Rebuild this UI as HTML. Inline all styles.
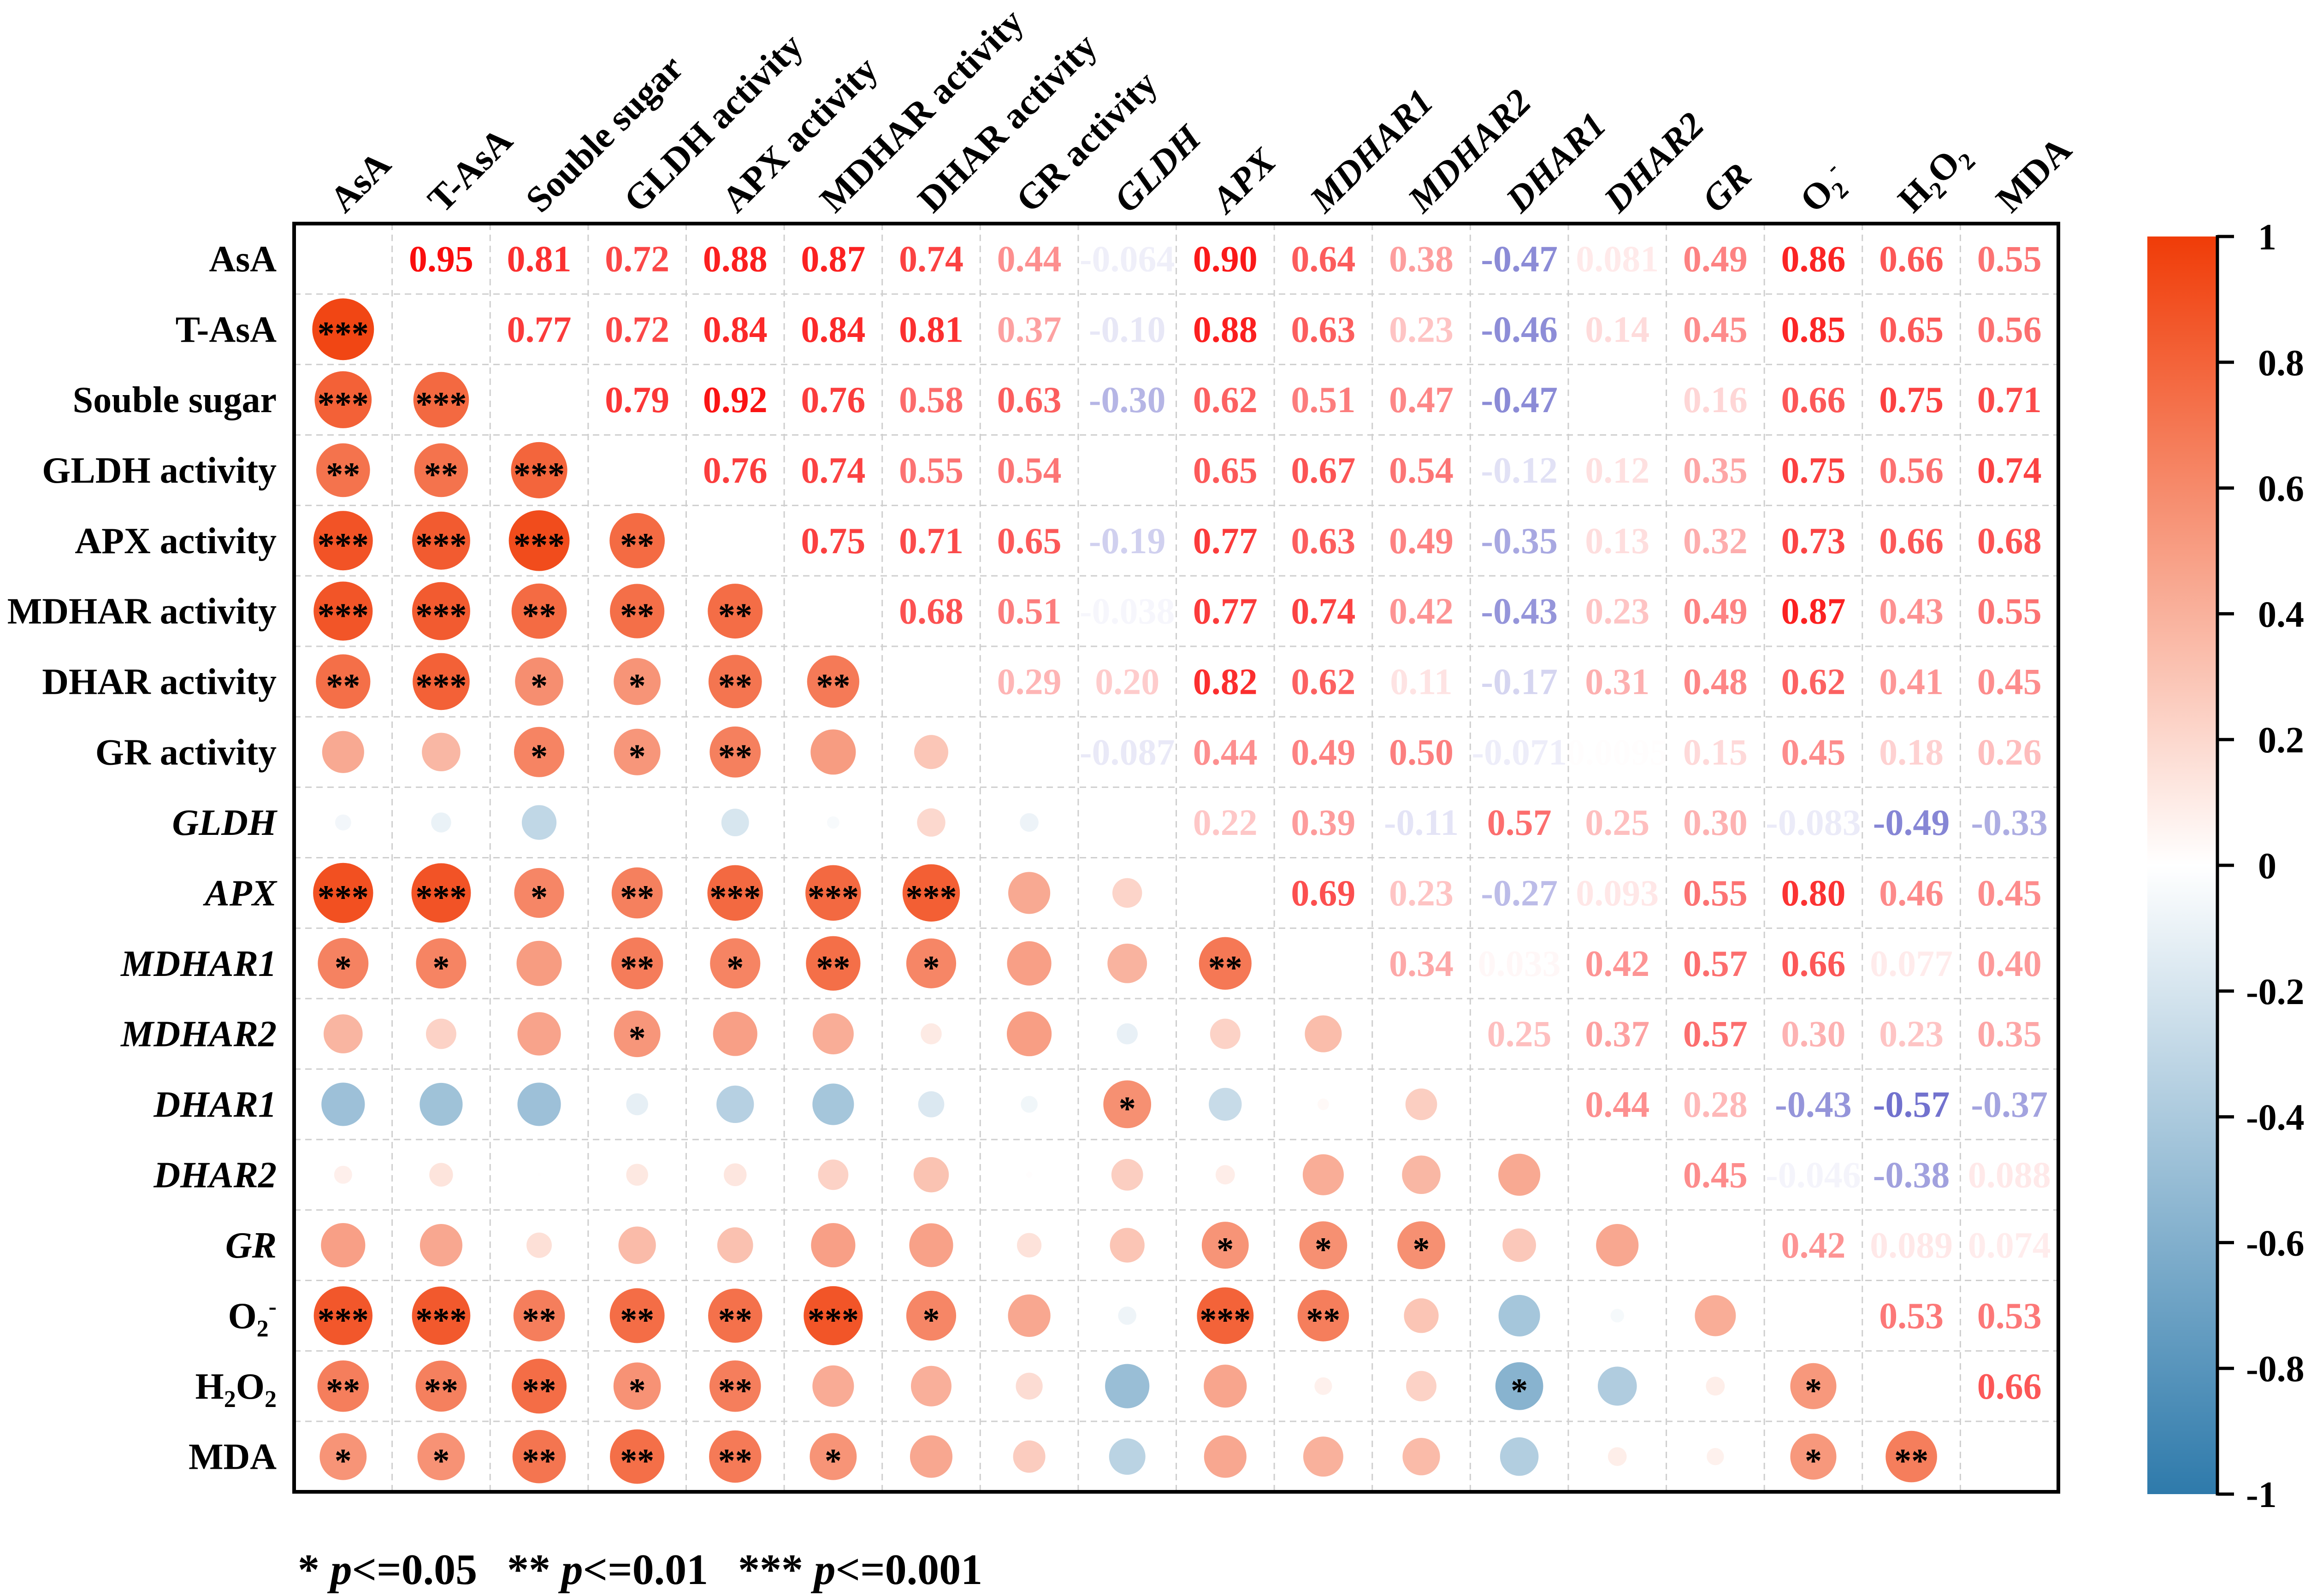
<!DOCTYPE html>
<html><head><meta charset="utf-8"><style>
html,body{margin:0;padding:0;background:#fff}
svg{display:block}
text{font-family:"Liberation Serif",serif;font-weight:bold}
</style></head><body>
<svg id="chart" width="5051" height="3462" viewBox="0 0 5051 3462" xmlns="http://www.w3.org/2000/svg">
<defs>
<linearGradient id="cbar" x1="0" y1="0" x2="0" y2="1">
<stop offset="0" stop-color="rgb(240,60,8)"/>
<stop offset="0.5" stop-color="rgb(255,255,255)"/>
<stop offset="1" stop-color="rgb(46,122,171)"/>
</linearGradient>
</defs>
<g id="grid"></g>
<g id="marks"></g>
<g id="labels"></g>
<rect x="638" y="485" width="3827" height="2751" fill="none" stroke="#000" stroke-width="8"/>
<g id="colorbar"></g>
<text y="3436" font-size="94"><tspan x="646">* <tspan font-style="italic">p</tspan>&lt;=0.05</tspan><tspan x="1100">** <tspan font-style="italic">p</tspan>&lt;=0.01</tspan><tspan x="1601">*** <tspan font-style="italic">p</tspan>&lt;=0.001</tspan></text>
</svg>
<script>
const variables = ["AsA","T-AsA","Souble sugar","GLDH activity","APX activity","MDHAR activity","DHAR activity","GR activity","GLDH","APX","MDHAR1","MDHAR2","DHAR1","DHAR2","GR","O2-","H2O2","MDA"];
const italicVars = ["GLDH","APX","MDHAR1","MDHAR2","DHAR1","DHAR2","GR"];
const upper0 = [0.95,0.81,0.72,0.88,0.87,0.74,0.44,-0.064,0.90,0.64,0.38,-0.47,0.081,0.49,0.86,0.66,0.55];
const upper1 = [0.77,0.72,0.84,0.84,0.81,0.37,-0.10,0.88,0.63,0.23,-0.46,0.14,0.45,0.85,0.65,0.56];
const upper2 = [0.79,0.92,0.76,0.58,0.63,-0.30,0.62,0.51,0.47,-0.47,0.003,0.16,0.66,0.75,0.71];
const upper3 = [0.76,0.74,0.55,0.54,0.00014,0.65,0.67,0.54,-0.12,0.12,0.35,0.75,0.56,0.74];
const upper4 = [0.75,0.71,0.65,-0.19,0.77,0.63,0.49,-0.35,0.13,0.32,0.73,0.66,0.68];
const upper5 = [0.68,0.51,-0.038,0.77,0.74,0.42,-0.43,0.23,0.49,0.87,0.43,0.55];
const upper6 = [0.29,0.20,0.82,0.62,0.11,-0.17,0.31,0.48,0.62,0.41,0.45];
const upper7 = [-0.087,0.44,0.49,0.50,-0.071,0.0095,0.15,0.45,0.18,0.26];
const upper8 = [0.22,0.39,-0.11,0.57,0.25,0.30,-0.083,-0.49,-0.33];
const upper9 = [0.69,0.23,-0.27,0.093,0.55,0.80,0.46,0.45];
const upper10 = [0.34,0.033,0.42,0.57,0.66,0.077,0.40];
const upper11 = [0.25,0.37,0.57,0.30,0.23,0.35];
const upper12 = [0.44,0.28,-0.43,-0.57,-0.37];
const upper13 = [0.45,-0.046,-0.38,0.088];
const upper14 = [0.42,0.089,0.074];
const upper15 = [0.53,0.53];
const upper16 = [0.66];
const upperRows = [upper0,upper1,upper2,upper3,upper4,upper5,upper6,upper7,upper8,upper9,upper10,upper11,upper12,upper13,upper14,upper15,upper16];
const valueLabels = {"0.00014":"1.4E-4","0.003":"","0.0095":"0.0095"};
const stars1 = ["***"];
const stars2 = ["***","***"];
const stars3 = ["**","**","***"];
const stars4 = ["***","***","***","**"];
const stars5 = ["***","***","**","**","**"];
const stars6 = ["**","***","*","*","**","**"];
const stars7 = ["","","*","*","**","",""];
const stars8 = ["","","","","","","",""];
const stars9 = ["***","***","*","**","***","***","***","",""];
const stars10 = ["*","*","","**","*","**","*","","","**"];
const stars11 = ["","","","*","","","","","","",""];
const stars12 = ["","","","","","","","","*","","",""];
const stars13 = ["","","","","","","","","","","","",""];
const stars14 = ["","","","","","","","","","*","*","*","",""];
const stars15 = ["***","***","**","**","**","***","*","","","***","**","","","",""];
const stars16 = ["**","**","**","*","**","","","","","","","","*","","","*"];
const stars17 = ["*","*","**","**","**","*","","","","","","","","","","*","**"];
const starRows = [[],stars1,stars2,stars3,stars4,stars5,stars6,stars7,stars8,stars9,stars10,stars11,stars12,stars13,stars14,stars15,stars16,stars17];
const cbarTicks = [1,0.8,0.6,0.4,0.2,0,-0.2,-0.4,-0.6,-0.8,-1];
const cbarTickLabels = ["1","0.8","0.6","0.4","0.2","0","-0.2","-0.4","-0.6","-0.8","-1"];

const NS="http://www.w3.org/2000/svg";
const N=variables.length, X0=638, Y0=485, W=3827, H=2751;
const cw=W/N, ch=H/N;
const cx=j=>X0+cw*(j+0.5), cy=i=>Y0+ch*(i+0.5);
const rScale=v=>Math.sqrt(Math.abs(v))*68.7;
const cbY=v=>513+(1-v)/2*2728;
function cmap(v){
  if(v>=0) return `rgb(${Math.round(255-v*15)},${Math.round(255-v*195)},${Math.round(255-v*247)})`;
  const a=-v; return `rgb(${Math.round(255-a*209)},${Math.round(255-a*133)},${Math.round(255-a*84)})`;
}
function mk(tag,attrs,parent){const e=document.createElementNS(NS,tag);for(const k in attrs)e.setAttribute(k,attrs[k]);parent.appendChild(e);return e;}
const M=[];for(let i=0;i<N;i++){M.push(new Array(N).fill(1));}
upperRows.forEach((row,i)=>row.forEach((v,k)=>{const j=i+1+k;M[i][j]=v;M[j][i]=v;}));

const grid=document.getElementById('grid');
for(let k=1;k<N;k++){
  const l1=mk('line',{x1:X0+cw*k,y1:Y0,x2:X0+cw*k,y2:Y0+H,stroke:'#cfcfcf','stroke-width':3,'stroke-dasharray':'14 10'},grid);
  
  
  const l2=mk('line',{x1:X0,y1:Y0+ch*k,x2:X0+W,y2:Y0+ch*k,stroke:'#cfcfcf','stroke-width':3,'stroke-dasharray':'14 10'},grid);
  
  
}
const marks=document.getElementById('marks');
for(let i=0;i<N;i++){for(let j=0;j<N;j++){
  const v=M[i][j];
  if(j<i){
    const c=mk('circle',{cx:cx(j),cy:cy(i),r:rScale(v),fill:cmap(v)},marks);
    
    
    const s=starRows[i][j]||'';
    if(s){const t=mk('text',{x:cx(j),y:cy(i)+34,'text-anchor':'middle','font-size':74,fill:'#000','font-weight':'normal'},marks);t.textContent=s;
      
      }
  } else if(j>i){
    const key=String(v);
    let txt;
    if(key in valueLabels) txt=valueLabels[key];
    else txt=(Math.abs(v)<0.1)? String(v) : v.toFixed(2);
    const pos=v>=0, a=Math.min(1,Math.abs(v)*(pos?1:1.15));
    const t=mk('text',{x:cx(j),y:cy(i)+27,'text-anchor':'middle','font-size':80,fill:pos?'rgb(250,0,0)':'rgb(40,40,180)','fill-opacity':a},marks);
    t.textContent=txt;
    
    
  }
}}
const labels=document.getElementById('labels');
function addName(el,name){
  if(name==='O2-'){el.innerHTML='O<tspan font-size="0.65em" dy="18">2</tspan><tspan font-size="0.65em" dy="-48">-</tspan>';}
  else if(name==='H2O2'){el.innerHTML='H<tspan font-size="0.65em" dy="18">2</tspan><tspan dy="-18">O</tspan><tspan font-size="0.65em" dy="18">2</tspan>';}
  else el.textContent=name;
  if(italicVars.includes(name)) el.setAttribute('font-style','italic');
}
variables.forEach((name,i)=>{
  const t=mk('text',{x:600,y:cy(i)+27,'text-anchor':'end','font-size':80,fill:'#000'},labels);
  addName(t,name);
  
  
  const x=cx(i)+4, y=465;
  const c=mk('text',{x:x,y:y,'text-anchor':'start','font-size':80,fill:'#000',transform:`rotate(-45 ${x} ${y})`},labels);
  addName(c,name);
  
  
});
const cb=document.getElementById('colorbar');
const bar=mk('rect',{x:4658,y:cbY(1),width:150,height:cbY(-1)-cbY(1),fill:'url(#cbar)'},cb);


const ax=mk('line',{x1:4810,y1:cbY(1)-3,x2:4810,y2:cbY(-1)+3,stroke:'#000','stroke-width':7},cb);


cbarTicks.forEach((v,k)=>{
  const l=mk('line',{x1:4810,y1:cbY(v),x2:4846,y2:cbY(v),stroke:'#000','stroke-width':7},cb);
  
  
  const t=mk('text',{x:v<0?4872:4898,y:cbY(v)+28,'font-size':80,fill:'#000'},cb);
  t.textContent=cbarTickLabels[k];
  
  
});
</script>
</body></html>
